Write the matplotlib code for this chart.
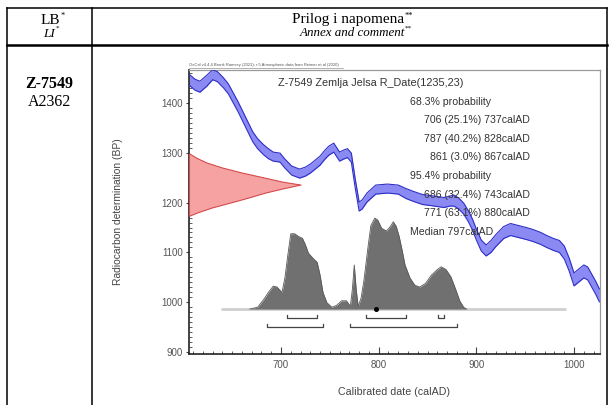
import matplotlib
matplotlib.use('Agg')
import matplotlib.pyplot as plt
from matplotlib.ticker import MultipleLocator
import numpy as np

# values
sample_id = 'Z-7549'
lab_code = 'A2362'
title = 'Z-7549 Zemlja Jelsa R_Date(1235,23)'
oxcal_note = 'OxCal v4.4.4 Bronk Ramsey (2021); r:5 Atmospheric data from Reimer et al (2020)'

# calibration curve (centre + half width), calAD vs BP
cal_year = [606, 612, 617, 624, 630, 635, 641, 646, 651, 656,
            661, 666, 671, 676, 682, 687, 692, 699, 704, 711,
            719, 725, 730, 735, 740, 745, 749, 754, 760, 764,
            768, 772, 776, 780, 783, 788, 797, 809, 820, 828,
            836, 845, 853, 860, 867, 873, 877, 882, 887, 892,
            896, 900, 905, 910, 915, 920, 928, 935, 943, 951,
            958, 966, 972, 979, 985, 990, 995, 1000, 1005, 1010,
            1014, 1018, 1022, 1026]
cal_bp = [1446, 1436, 1432, 1444, 1456, 1452, 1440, 1428, 1410, 1392,
          1372, 1352, 1332, 1318, 1306, 1298, 1292, 1290, 1278, 1264,
          1258, 1262, 1268, 1276, 1284, 1296, 1304, 1310, 1292, 1296,
          1299, 1290, 1238, 1192, 1196, 1210, 1226, 1228, 1226, 1218,
          1212, 1206, 1204, 1202, 1200, 1203, 1204, 1198, 1188, 1172,
          1156, 1136, 1114, 1104, 1112, 1124, 1140, 1146, 1142, 1138,
          1134, 1128, 1122, 1116, 1112, 1100, 1076, 1046, 1054, 1062,
          1058, 1044, 1030, 1014]
cal_err = [11, 11, 11, 11, 10, 10, 10, 10, 10, 10,
           10, 10, 10, 10, 10, 10, 9, 9, 9, 9,
           9, 9, 9, 9, 9, 9, 9, 9, 9, 9,
           9, 9, 9, 9, 9, 9, 9, 9, 9, 10,
           10, 10, 10, 10, 10, 10, 11, 11, 11, 11,
           11, 11, 11, 11, 12, 12, 12, 12, 12, 12,
           12, 12, 12, 12, 12, 13, 13, 13, 13, 13,
           13, 13, 13, 13]

# measured date (red) : right edge in calAD at each BP level
red_bp = [1298, 1290, 1280, 1270, 1260, 1250, 1242, 1236, 1228, 1220, 1208, 1200, 1190, 1180, 1174]
red_edge = [606.5, 613, 624, 640, 660, 683, 701, 720, 701, 684, 663, 648, 629, 614, 606.5]

# calibrated distribution (relative height)
post_year = [668, 676, 682, 687, 692, 696, 701, 704, 707, 710,
             714, 718, 722, 725, 728, 733, 737, 740, 743, 747,
             752, 757, 762, 767, 771, 773, 775, 777, 779, 782,
             785, 789, 792, 796, 799, 803, 808, 812, 815, 818,
             821, 824, 827, 832, 837, 842, 848, 854, 860, 864,
             869, 874, 879, 883, 887, 890]
post_rel = [0, 0.02, 0.10, 0.18, 0.25, 0.24, 0.18, 0.34, 0.59, 0.82,
            0.82, 0.79, 0.77, 0.70, 0.61, 0.55, 0.51, 0.37, 0.18, 0.07,
            0.02, 0.04, 0.09, 0.09, 0.03, 0.21, 0.48, 0.21, 0.03, 0.12,
            0.32, 0.67, 0.91, 0.99, 0.97, 0.88, 0.85, 0.90, 0.95, 0.90,
            0.79, 0.64, 0.48, 0.34, 0.26, 0.24, 0.28, 0.37, 0.43, 0.46,
            0.43, 0.35, 0.21, 0.09, 0.02, 0]

range68_lo = [706, 787, 861]
range68_hi = [737, 828, 867]
range68_pct = [25.1, 40.2, 3.0]
range95_lo = [686, 771]
range95_hi = [743, 880]
range95_pct = [32.4, 63.1]
median_year = 797

x_ticks = [700, 800, 900, 1000]
y_ticks = [900, 1000, 1100, 1200, 1300, 1400]

W, H = 614, 405
serif = 'Liberation Serif'
sans = 'Liberation Sans'

fig = plt.figure(figsize=(W / 100, H / 100), dpi=100)

# background axes in pixel units for the table
bg = fig.add_axes([0, 0, 1, 1])
bg.set_xlim(0, W)
bg.set_ylim(H, 0)
bg.axis('off')

bg.plot([7, 607], [8.3, 8.3], color='k', lw=1.1)
bg.plot([7, 607], [44.5, 44.5], color='k', lw=1.8)
for xv in [7.3, 91.7, 607]:
    bg.plot([xv, xv], [8, H], color='k', lw=1.1)


def with_star(x, y, s, stars, size, **kw):
    t = bg.text(x, y, s, family=serif, fontsize=size, ha='center', va='center', **kw)
    bg.annotate(stars, xy=(1, 1), xycoords=t, xytext=(0.3, 1.5), textcoords='offset points',
                ha='left', va='top', fontsize=size * 0.55, family=serif)


with_star(50, 20, 'LB', '*', 11)
with_star(49, 34, 'LI', '*', 9.5, style='italic')
with_star(348, 20, 'Prilog i napomena', '**', 11)
with_star(352, 33.5, 'Annex and comment', '**', 9.4, style='italic')

bg.text(49, 83.5, sample_id, family=serif, fontsize=11.5, weight='bold', ha='center', va='center')
bg.text(49, 101.5, lab_code, family=serif, fontsize=11.5, ha='center', va='center')

bg.text(189, 65, oxcal_note, family=sans, fontsize=3, color='#555555', ha='left', va='center')
bg.plot([189, 343], [67.5, 67.5], color='#777777', lw=0.4)

bg.text(118, 212, 'Radiocarbon determination (BP)', family=sans, fontsize=7.4, color='#444444',
        rotation=90, ha='center', va='center')
bg.text(394.5, 392, 'Calibrated date (calAD)', family=sans, fontsize=7.7, color='#444444',
        ha='center', va='center')

# the OxCal plot
ax = fig.add_axes([189 / W, 1 - 354 / H, (600 - 189) / W, (354 - 70) / H])
ax.set_xlim(605.8, 1026.6)
ax.set_ylim(896.6, 1465.5)

yr = np.array(cal_year)
bp = np.array(cal_bp)
err = np.array(cal_err)
ax.fill_between(yr, bp - err, bp + err, color='#8a8af2', lw=0, zorder=2)
ax.plot(yr, bp - err, color='#2e2ec8', lw=0.8, zorder=3)
ax.plot(yr, bp + err, color='#2e2ec8', lw=0.8, zorder=3)

x0 = ax.get_xlim()[0]
ax.fill_betweenx(red_bp, x0, red_edge, facecolor='#f7a2a2', edgecolor='#d44a4a', lw=0.8, zorder=4)

base = 986.6
scale = 184
ax.plot([639, 992], [base, base], color='#cfcfcf', lw=2, zorder=2, solid_capstyle='butt')
top = base + np.array(post_rel) * scale
ax.fill_between(post_year, base, top, color='#707070', lw=0, zorder=3)
ax.plot(post_year, top, color='#585858', lw=0.6, zorder=3)
ax.plot(median_year, base, 'o', ms=2.6, color='k', zorder=5)

for lvl, los, his in [(968.7, range68_lo, range68_hi), (950.7, range95_lo, range95_hi)]:
    for lo, hi in zip(los, his):
        ax.plot([lo, lo, hi, hi], [lvl + 6, lvl, lvl, lvl + 6], color='#444444', lw=0.9, zorder=3)

txt = dict(family=sans, fontsize=7.6, color='#333333', va='center', zorder=6)
ax.text(791.6, 1439, title, ha='center', **dict(txt, fontsize=7.8))
lines = [('68.3% probability', 'left')]
lines += [(f'{lo} ({p:.1f}%) {hi}calAD', 'right') for lo, hi, p in zip(range68_lo, range68_hi, range68_pct)]
lines += [('95.4% probability', 'left')]
lines += [(f'{lo} ({p:.1f}%) {hi}calAD', 'right') for lo, hi, p in zip(range95_lo, range95_hi, range95_pct)]
lines += [(f'Median {median_year}calAD', 'left')]
for i, (s, al) in enumerate(lines):
    ax.text(832 if al == 'left' else 955, 1402.4 - 37.26 * i, s, ha=al, **txt)

ax.set_xticks(x_ticks)
ax.set_yticks(y_ticks)
ax.xaxis.set_minor_locator(MultipleLocator(10))
ax.yaxis.set_minor_locator(MultipleLocator(10))
ax.tick_params(axis='x', which='major', direction='in', length=5, width=0.8, colors='#444444',
               labelsize=7, pad=4, labelcolor='#555555')
ax.tick_params(axis='x', which='minor', direction='in', length=2.2, width=0.6, colors='#444444')
ax.tick_params(axis='y', which='major', direction='out', length=2.5, width=0.8, colors='#444444',
               labelsize=7, pad=2, labelcolor='#555555')
ax.tick_params(axis='y', which='minor', direction='in', length=2, width=0.6, colors='#444444')
for lab in ax.get_xticklabels() + ax.get_yticklabels():
    lab.set_family(sans)

for side in ['left', 'bottom']:
    ax.spines[side].set_color('#222222')
    ax.spines[side].set_linewidth(1.2)
for side in ['top', 'right']:
    ax.spines[side].set_color('#9a9a9a')
    ax.spines[side].set_linewidth(0.9)

fig.savefig('out.png', dpi=100)
